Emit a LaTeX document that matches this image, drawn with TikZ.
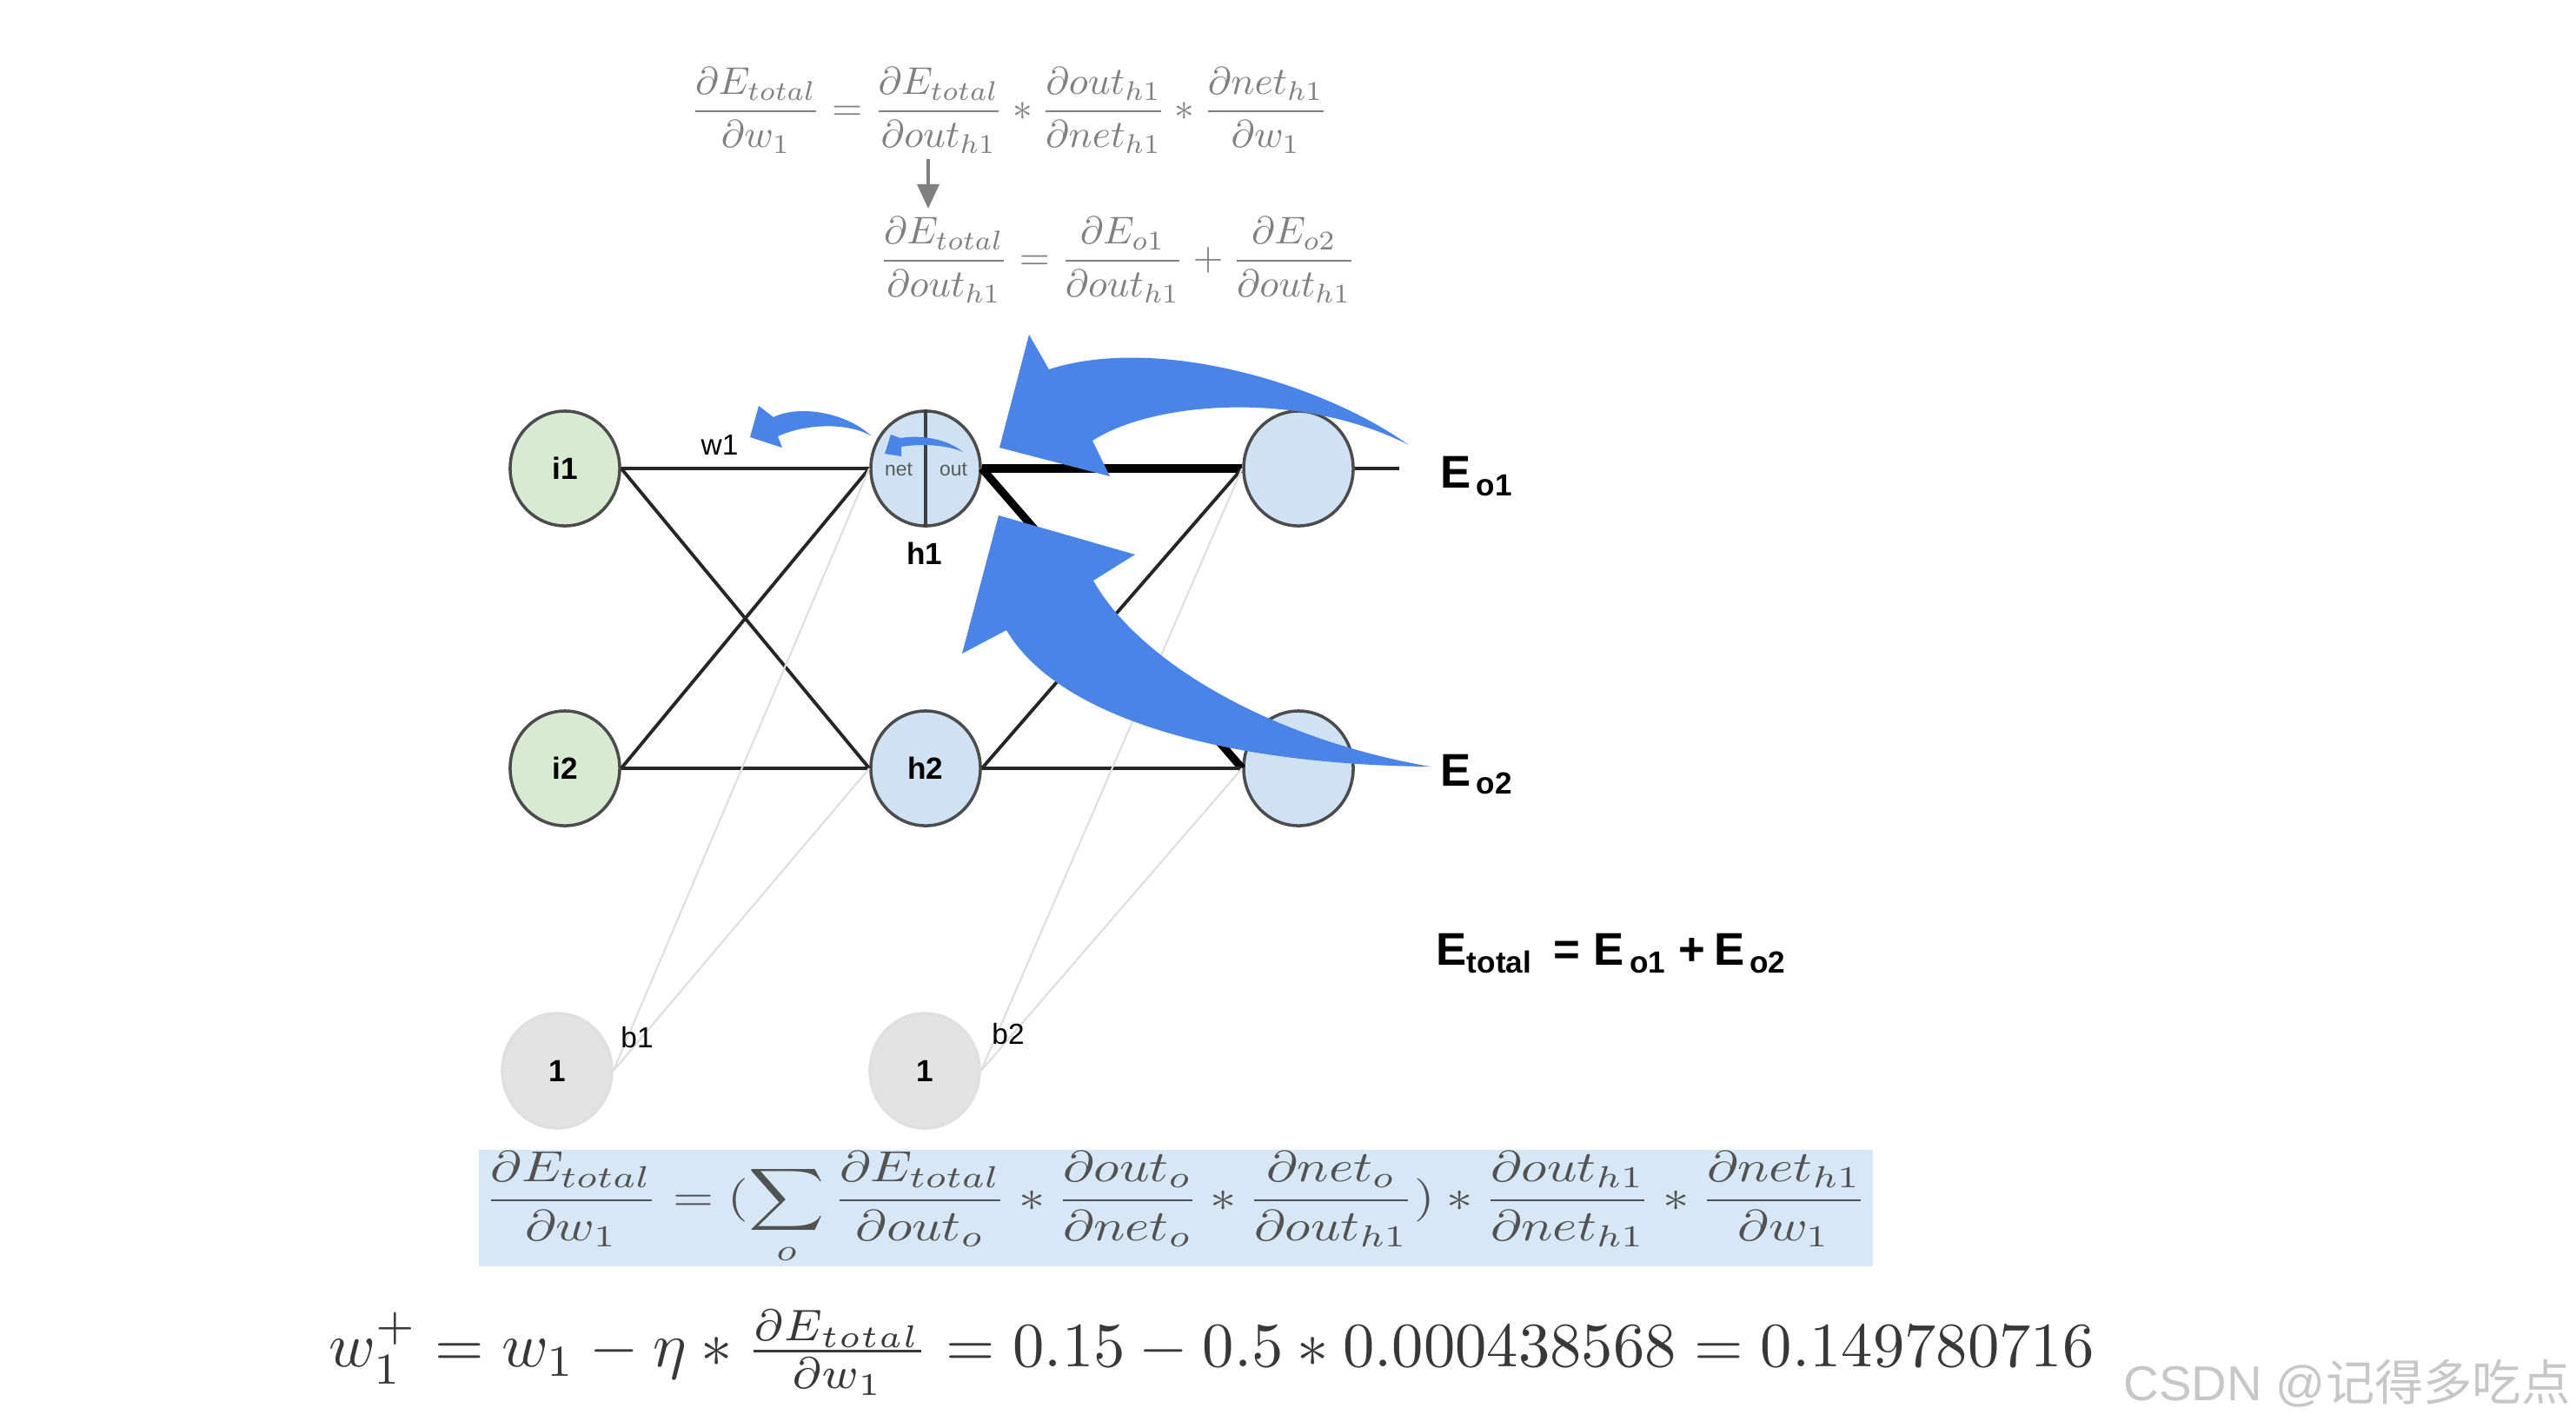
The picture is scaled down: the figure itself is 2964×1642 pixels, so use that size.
\documentclass[tikz,border=0pt]{standalone}
\usepackage{amsmath, amssymb}
\usepackage{graphicx}
\usepackage{fontspec}
\setsansfont{Liberation Sans}
\newfontfamily\cjkfont{Noto Sans CJK SC}
\usetikzlibrary{arrows.meta, positioning, calc, shapes.geometric}
\usepackage{xcolor}
\definecolor{inGreen}{HTML}{D9EAD3}
\definecolor{hidBlue}{HTML}{CFE2F3}
\definecolor{biasGray}{HTML}{E3E3E3}
\definecolor{arrBlue}{HTML}{4A84E6}
\definecolor{boxBlue}{HTML}{D7E7F6}
\newcommand{\Esub}[1]{{\fontsize{15}{18}\selectfont E}\,\raisebox{-0.5ex}{\fontsize{10}{12}\selectfont #1}}

\begin{document}
\begin{tikzpicture}[x=0.01cm, y=-0.01cm,
  neuron/.style={ellipse, draw=black!70, line width=1pt, minimum width=1.26cm, minimum height=1.32cm, inner sep=0pt, font=\sffamily\bfseries\fontsize{10}{12}\selectfont},
  wline/.style={line width=1.1pt, black!85},
  wthick/.style={line width=2.6pt, black},
  bline/.style={line width=0.6pt, black!13},
  lbl/.style={font=\sffamily\fontsize{9.5}{11}\selectfont, inner sep=1pt},
  eqgray/.style={inner sep=0pt, text=black!50}]
  \useasboundingbox (0,0) rectangle (2964,1642);

  % formulas on top
  \node[eqgray, anchor=west] (eqA) at (794,127) {\resizebox*{7.33cm}{0.98cm}{$\displaystyle \frac{\partial E_{total}}{\partial w_1} = \frac{\partial E_{total}}{\partial out_{h1}} * \frac{\partial out_{h1}}{\partial net_{h1}} * \frac{\partial net_{h1}}{\partial w_1}$}};
  \node[eqgray, anchor=west] (eqB) at (1011,299) {\resizebox*{5.48cm}{0.98cm}{$\displaystyle \frac{\partial E_{total}}{\partial out_{h1}} = \frac{\partial E_{o1}}{\partial out_{h1}} + \frac{\partial E_{o2}}{\partial out_{h1}}$}};
  \coordinate (dtop) at (1068,183);
  \coordinate (dbot) at (1068,240);
  \draw[black!50, line width=1pt, -{Triangle[width=0.25cm, length=0.28cm]}] (dtop) -- (dbot);

  % network
  \node[neuron, fill=inGreen] (i1) at (650,539) {i1};
  \node[neuron, fill=inGreen] (i2) at (650,884) {i2};
  \node[neuron, fill=hidBlue] (h1) at (1065,539) {};
  \node[neuron, fill=hidBlue] (h2) at (1065,884) {h2};
  \node[neuron, fill=hidBlue] (o1) at (1494,539) {};
  \node[neuron, fill=hidBlue] (o2) at (1494,884) {};
  \node[neuron, fill=biasGray, draw=black!12] (b1) at (641,1232) {1};
  \node[neuron, fill=biasGray, draw=black!12] (b2) at (1064,1232) {1};
  \coordinate (o1end) at (1610,539);

  \draw[wline] (i1.east) -- (h1.west);
  \draw[wline] (i1.east) -- (h2.west);
  \draw[wline] (i2.east) -- (h1.west);
  \draw[wline] (i2.east) -- (h2.west);
  \draw[wthick] (h1.east) -- (o1.west);
  \draw[wthick] (h1.east) -- (o2.west);
  \draw[wline] (h2.east) -- (o1.west);
  \draw[wline] (h2.east) -- (o2.west);
  \draw[wline] (o1.east) -- (o1end);
  \draw[bline] (b1.east) -- (h1.west);
  \draw[bline] (b1.east) -- (h2.west);
  \draw[bline] (b2.east) -- (o1.west);
  \draw[bline] (b2.east) -- (o2.west);

  \draw[line width=1pt, black!75] (h1.north) -- (h1.south);
  \node[font=\sffamily\fontsize{6.5}{7}\selectfont, text=black!65, inner sep=0pt] (net) at (1034,540) {net};
  \node[font=\sffamily\fontsize{6.5}{7}\selectfont, text=black!65, inner sep=0pt] (out) at (1097,540) {out};

  \node[lbl] (w1) at (828,512) {w1};
  \node[lbl, font=\sffamily\bfseries\fontsize{10}{12}\selectfont] (h1name) at (1064,637) {h1};
  \node[lbl] (b1name) at (733,1194) {b1};
  \node[lbl] (b2name) at (1160,1190) {b2};
  \node[anchor=west, inner sep=0pt, font=\sffamily\bfseries] (Eo1) at (1657,548) {\Esub{o1}};
  \node[anchor=west, inner sep=0pt, font=\sffamily\bfseries] (Eo2) at (1657,891) {\Esub{o2}};
  \node[anchor=west, inner sep=0pt, font=\sffamily\bfseries] (Etot) at (1652,1097) {{\fontsize{15}{18}\selectfont E}\raisebox{-0.5ex}{\fontsize{10}{12}\selectfont total}\;\;\,{\fontsize{15}{18}\selectfont =}\, \Esub{o1}\, {\fontsize{15}{18}\selectfont +} \Esub{o2}};

  % blue arrows
  \fill[arrBlue] (1621,512) .. controls (1520,440) and (1330,385) .. (1207,425) -- (1184,385) -- (1150,515) -- (1277,548) -- (1257,507) .. controls (1330,460) and (1500,450) .. (1621,512) -- cycle;
  \fill[arrBlue] (1646,882) .. controls (1460,850) and (1310,760) .. (1258,668) -- (1306,638) -- (1149,593) -- (1107,752) -- (1158,725) .. controls (1220,830) and (1420,880) .. (1646,882) -- cycle;
  \fill[arrBlue] (1003,502) .. controls (975,475) and (920,465) .. (890,480) -- (873,467) -- (863,503) -- (900,515) -- (895,502) .. controls (925,488) and (975,485) .. (1003,502) -- cycle;
  \fill[arrBlue] (1108,520) .. controls (1090,505) and (1060,500) .. (1036,504) -- (1025,500) -- (1018,522) -- (1037,525) -- (1037,514) .. controls (1060,510) and (1090,512) .. (1108,520) -- cycle;

  % chain rule in the box and the update
  \node[fill=boxBlue, minimum width=16.03cm, minimum height=1.34cm, inner sep=0pt, text=black!68] (eqBox) at (1353,1390) {\resizebox*{15.9cm}{1.31cm}{$\displaystyle \frac{\partial E_{total}}{\partial w_1} = (\sum_o \frac{\partial E_{total}}{\partial out_o} * \frac{\partial out_o}{\partial net_o} * \frac{\partial net_o}{\partial out_{h1}}) * \frac{\partial out_{h1}}{\partial net_{h1}} * \frac{\partial net_{h1}}{\partial w_1}$}};
  \node[inner sep=0pt, text=black!78] (eqUpd) at (1394,1556) {\resizebox{20.3cm}{!}{$w_1^+ = w_1 - \eta * \frac{\partial E_{total}}{\partial w_1} = 0.15 - 0.5 * 0.000438568 = 0.149780716$}};

  \node[anchor=east, inner sep=0pt, text=black!22, font=\sffamily\fontsize{16}{19}\selectfont] (mark) at (2958,1592) {CSDN @{\cjkfont 记得多吃点}};
\end{tikzpicture}
\end{document}
